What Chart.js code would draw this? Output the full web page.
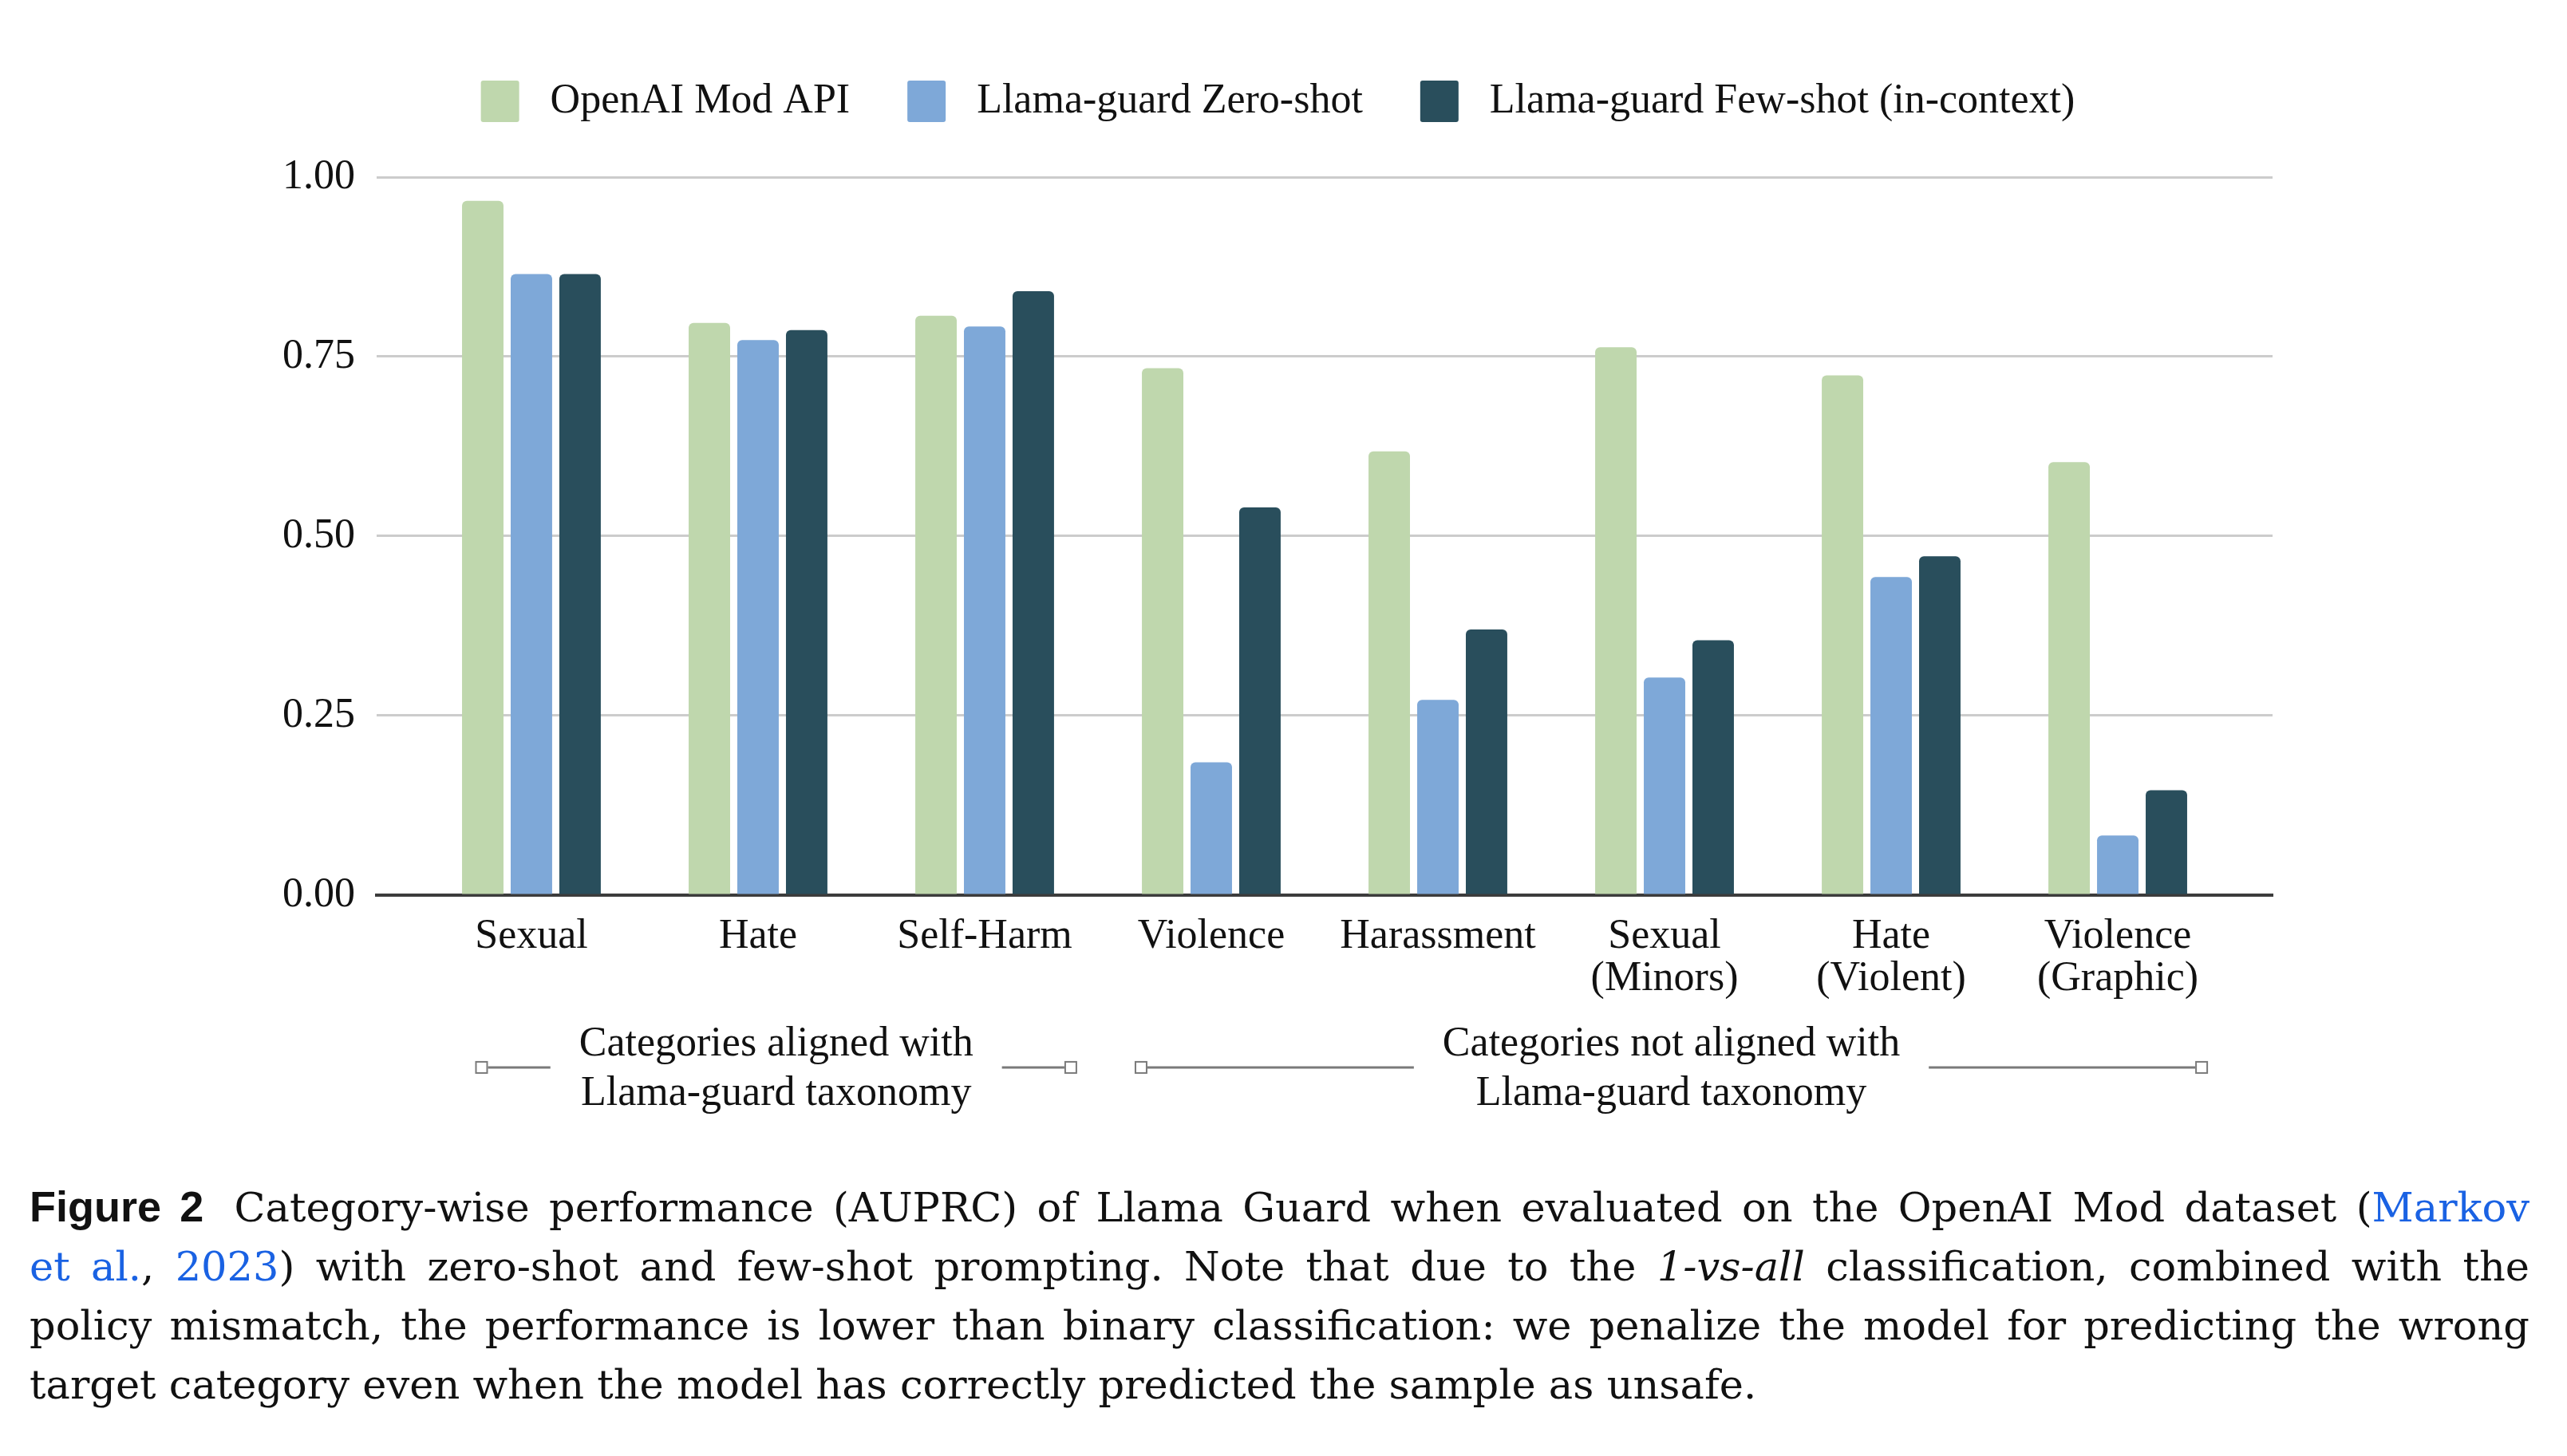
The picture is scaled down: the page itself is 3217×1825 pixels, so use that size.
<!DOCTYPE html>
<html>
<head>
<meta charset="utf-8">
<style>
    html, body { margin: 0; padding: 0; background: #ffffff; }
    body { width: 3217px; height: 1825px; position: relative; overflow: hidden; }
    #chart-wrap { position: absolute; left: 0; top: 0; width: 3217px; height: 1430px; }
    #caption {
        position: absolute; left: 37px; top: 1475px; width: 3133px;
        font-family: "DejaVu Serif", serif; font-size: 51px; line-height: 74px; color: #111;
    }
    #caption .ln { text-align: justify; text-align-last: justify; white-space: nowrap; }
    #caption .ln.last { text-align-last: left; }
    #caption b { font-family: "Liberation Sans", sans-serif; font-weight: bold; font-size: 54px; margin-right: 14px; }
    #caption .ref { color: #1a62e3; }
</style>
</head>
<body>
<div id="chart-wrap"><canvas id="auprc-chart"></canvas></div>
<div id="caption">
    <div class="ln"><b>Figure 2</b> Category-wise performance (AUPRC) of Llama Guard when evaluated on the OpenAI Mod dataset (<span class="ref">Markov</span></div>
    <div class="ln"><span class="ref">et al.</span>, <span class="ref">2023</span>) with zero-shot and few-shot prompting. Note that due to the <i>1-vs-all</i> classification, combined with the</div>
    <div class="ln">policy mismatch, the performance is lower than binary classification: we penalize the model for predicting the wrong</div>
    <div class="ln last">target category even when the model has correctly predicted the sample as unsafe.</div>
</div>

<script src="https://cdn.jsdelivr.net/npm/chart.js"></script>
<script>
    // categories (two-line labels as arrays)
    const categories = [
        'Sexual', 'Hate', 'Self-Harm', 'Violence', 'Harassment',
        ['Sexual', '(Minors)'], ['Hate', '(Violent)'], ['Violence', '(Graphic)']
    ];
    const seriesNames = ['OpenAI Mod API', 'Llama-guard Zero-shot', 'Llama-guard Few-shot (in-context)'];
    const openaiModApi = [0.967, 0.797, 0.807, 0.734, 0.618, 0.763, 0.724, 0.603];
    const llamaZeroShot = [0.865, 0.773, 0.792, 0.185, 0.272, 0.303, 0.443, 0.083];
    const llamaFewShot = [0.865, 0.787, 0.841, 0.540, 0.370, 0.355, 0.472, 0.146];
    const yTicks = [0, 0.25, 0.5, 0.75, 1];

    // group brackets under the axis (start / end in category units)
    const groupLabels = [
        ['Categories aligned with', 'Llama-guard taxonomy'],
        ['Categories not aligned with', 'Llama-guard taxonomy']
    ];
    const groupSpans = [[-0.22, 2.38], [2.69, 7.37]];

    const colors = ['#bfd7ad', '#7ea8d8', '#294e5c'];
    const edgePad = 0.183; // extra axis room on both sides, like the sheet export

    Chart.defaults.font.family = '"Liberation Serif", serif';
    Chart.defaults.font.size = 52;
    Chart.defaults.color = '#111111';

    // push the plot a bit further below the legend, nudge legend right
    const legendGap = {
        id: 'legendGap',
        beforeInit(chart) {
            const legend = chart.legend;
            const fit = legend.fit;
            legend.fit = function () {
                fit.bind(legend)();
                this.height += 59;
            };
            const draw = legend.draw;
            legend.draw = function () {
                chart.ctx.save();
                chart.ctx.translate(14, 0);
                draw.apply(legend, arguments);
                chart.ctx.restore();
            };
        }
    };

    const groupBrackets = {
        id: 'groupBrackets',
        afterDraw(chart) {
            const ctx = chart.ctx;
            const x = chart.scales.x;
            const lineY = chart.chartArea.bottom + 216;
            const step = x.getPixelForValue(1) - x.getPixelForValue(0);
            ctx.save();
            ctx.font = '52px "Liberation Serif", serif';
            ctx.textAlign = 'center';
            ctx.textBaseline = 'middle';
            groupSpans.forEach((span, i) => {
                const x0 = x.getPixelForValue(0) + span[0] * step;
                const x1 = x.getPixelForValue(0) + span[1] * step;
                const mid = (x0 + x1) / 2;
                const tw = Math.max(...groupLabels[i].map(t => ctx.measureText(t).width));
                const gap = 36;
                ctx.strokeStyle = '#7a7a7a';
                ctx.lineWidth = 3;
                ctx.beginPath();
                ctx.moveTo(x0 + 8, lineY); ctx.lineTo(mid - tw / 2 - gap, lineY);
                ctx.moveTo(mid + tw / 2 + gap, lineY); ctx.lineTo(x1 - 8, lineY);
                ctx.stroke();
                ctx.lineWidth = 2;
                ctx.fillStyle = '#ffffff';
                [x0, x1].forEach(px => {
                    ctx.fillRect(px - 7, lineY - 7, 14, 14);
                    ctx.strokeRect(px - 7, lineY - 7, 14, 14);
                });
                ctx.fillStyle = '#111111';
                ctx.fillText(groupLabels[i][0], mid, lineY - 29);
                ctx.fillText(groupLabels[i][1], mid, lineY + 33);
            });
            ctx.restore();
        }
    };

    const seriesData = [openaiModApi, llamaZeroShot, llamaFewShot];

    new Chart(document.getElementById('auprc-chart'), {
        type: 'bar',
        data: {
            labels: categories,
            datasets: seriesNames.map((name, i) => ({
                label: name,
                data: seriesData[i],
                backgroundColor: colors[i],
                borderRadius: { topLeft: 6, topRight: 6 },
                borderSkipped: 'bottom',
                categoryPercentage: 0.644,
                barPercentage: 0.852
            }))
        },
        options: {
            responsive: true,
            maintainAspectRatio: false,
            animation: false,
            layout: { padding: { left: 327, right: 369, top: 29, bottom: 150 } },
            plugins: {
                tooltip: { enabled: false },
                legend: {
                    position: 'top',
                    align: 'center',
                    labels: {
                        boxWidth: 48,
                        boxHeight: 52,
                        padding: 72,
                        useBorderRadius: true,
                        borderRadius: 3,
                        font: { size: 52 },
                        generateLabels(chart) {
                            const items = Chart.defaults.plugins.legend.labels.generateLabels(chart);
                            items.forEach(it => { it.text = ' ' + it.text; it.lineWidth = 0; });
                            return items;
                        }
                    }
                }
            },
            scales: {
                x: {
                    grid: { display: false, drawTicks: false },
                    border: { display: true, color: '#3c3c3c', width: 4 },
                    ticks: { padding: 26, maxRotation: 0, autoSkip: false, font: { size: 52, lineHeight: 1.02 } },
                    afterBuildTicks(scale) {
                        scale._startValue -= edgePad;
                        scale._valueRange += 2 * edgePad;
                    }
                },
                y: {
                    min: 0,
                    max: 1,
                    afterBuildTicks(scale) { scale.ticks = yTicks.map(v => ({ value: v })); },
                    grid: { color: '#cccccc', lineWidth: 3, drawTicks: false },
                    border: { display: false },
                    ticks: {
                        padding: 27,
                        font: { size: 52 },
                        callback: v => Number(v).toFixed(2)
                    }
                }
            }
        },
        plugins: [legendGap, groupBrackets]
    });
</script>
</body>
</html>
